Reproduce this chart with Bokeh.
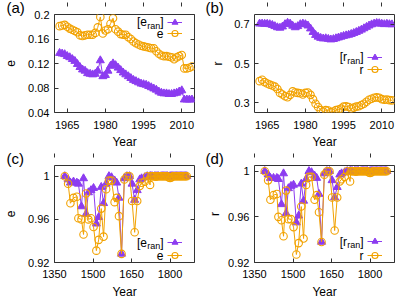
from bokeh.plotting import figure
from bokeh.layouts import gridplot
from bokeh.models import (Range1d, FixedTicker, LinearAxis, Label, Legend, LegendItem,
                          ColumnDataSource, Title)
from bokeh.embed import file_html
from bokeh.resources import INLINE

# ---------------- data ----------------
years_top = [1962, 1963, 1964, 1965, 1966, 1967, 1968, 1969, 1970, 1971,
             1972, 1973, 1974, 1975, 1976, 1977, 1978, 1979, 1980, 1981,
             1982, 1983, 1984, 1985, 1986, 1987, 1988, 1989, 1990, 1991,
             1992, 1993, 1994, 1995, 1996, 1997, 1998, 1999, 2000, 2001,
             2002, 2003, 2004, 2005, 2006, 2007, 2008, 2009, 2010, 2011,
             2012, 2013, 2014]
e_ran_top = [0.137, 0.136, 0.135, 0.132, 0.130, 0.127, 0.124, 0.119, 0.114, 0.110,
             0.108, 0.104, 0.103, 0.102, 0.103, 0.108, 0.125, 0.099, 0.101, 0.108,
             0.116, 0.120, 0.117, 0.113, 0.109, 0.105, 0.102, 0.099, 0.096, 0.093,
             0.091, 0.089, 0.087, 0.086, 0.085, 0.083, 0.081, 0.079, 0.077, 0.074,
             0.072, 0.071, 0.071, 0.070, 0.070, 0.071, 0.072, 0.074, 0.076, 0.061,
             0.061, 0.061, 0.061]
e_top = [0.181, 0.182, 0.183, 0.180, 0.177, 0.175, 0.173, 0.171, 0.166, 0.165,
         0.166, 0.167, 0.167, 0.167, 0.170, 0.179, 0.196, 0.169, 0.174, 0.176,
         0.185, 0.194, 0.176, 0.172, 0.168, 0.167, 0.167, 0.163, 0.160, 0.156,
         0.153, 0.151, 0.149, 0.148, 0.147, 0.146, 0.145, 0.145, 0.140, 0.136,
         0.133, 0.132, 0.132, 0.131, 0.130, 0.127, 0.130, 0.132, 0.134, 0.112,
         0.112, 0.113, 0.115]
r_ran_top = [0.703, 0.703, 0.702, 0.702, 0.700, 0.696, 0.690, 0.684, 0.682, 0.688,
             0.700, 0.707, 0.703, 0.692, 0.684, 0.690, 0.700, 0.703, 0.700, 0.693,
             0.678, 0.660, 0.645, 0.636, 0.630, 0.627, 0.628, 0.625, 0.622, 0.624,
             0.628, 0.632, 0.636, 0.640, 0.643, 0.646, 0.650, 0.655, 0.660, 0.666,
             0.672, 0.679, 0.686, 0.693, 0.699, 0.703, 0.706, 0.705, 0.702, 0.700,
             0.702, 0.700, 0.699]
r_top = [0.410, 0.417, 0.405, 0.398, 0.392, 0.388, 0.382, 0.370, 0.350, 0.342,
         0.333, 0.328, 0.340, 0.358, 0.352, 0.350, 0.348, 0.342, 0.350, 0.352,
         0.340, 0.318, 0.295, 0.278, 0.262, 0.255, 0.262, 0.260, 0.252, 0.255,
         0.262, 0.265, 0.270, 0.280, 0.282, 0.278, 0.270, 0.275, 0.280, 0.282,
         0.288, 0.295, 0.305, 0.315, 0.320, 0.325, 0.327, 0.325, 0.318, 0.315,
         0.316, 0.313, 0.312]

years_bot = [1390, 1403, 1412, 1424, 1437, 1443, 1455, 1463, 1473, 1482,
             1492, 1502, 1513, 1522, 1532, 1541, 1551, 1562, 1572, 1584,
             1592, 1601, 1611, 1622, 1632, 1642, 1652, 1662, 1672, 1682,
             1689, 1701, 1711, 1722, 1725, 1730, 1735, 1740, 1745, 1750,
             1755, 1760, 1765, 1770, 1775, 1780, 1785, 1790, 1795, 1800,
             1805, 1810, 1815, 1820, 1825, 1830, 1835, 1840, 1845, 1850,
             1855, 1860, 1865]
e_ran_bot = [1.000, 0.997, 0.994, 0.995, 0.994, 0.993, 0.972, 0.998, 0.965, 0.985,
             0.987, 0.989, 0.956, 0.962, 0.990, 0.975, 0.993, 1.000, 0.999, 0.996,
             0.994, 0.980, 0.928, 0.998, 1.000, 1.000, 0.993, 0.978, 0.987, 0.997,
             0.998, 0.999, 1.000, 1.000, 1.000, 1.000, 0.9995, 1.000, 1.000, 1.000,
             1.000, 0.9995, 1.000, 1.000, 1.000, 1.000, 1.000, 1.000, 0.9995, 1.000,
             1.000, 1.000, 1.000, 1.000, 1.000, 1.000, 1.000, 1.000, 1.000, 1.000,
             1.000, 1.000, 1.000]
e_bot = [1.000, 0.993, 0.975, 0.980, 0.981, 0.961, 0.960, 0.946, 0.984, 0.960,
         0.961, 0.953, 0.931, 0.941, 0.970, 0.944, 0.988, 0.996, 0.996, 0.976,
         0.980, 0.963, 0.928, 0.997, 1.000, 1.000, 0.977, 0.948, 0.977, 0.991,
         0.994, 0.995, 1.000, 0.992, 1.000, 1.000, 1.000, 1.000, 0.9995, 1.000,
         1.000, 1.000, 1.000, 1.000, 1.000, 1.000, 1.000, 1.000, 0.999, 0.9985,
         0.999, 1.000, 1.000, 1.000, 1.000, 1.000, 1.000, 1.000, 1.000, 1.000,
         1.000, 1.000, 1.000]
r_ran_bot = [1.000, 0.997, 0.994, 0.994, 0.994, 0.993, 0.971, 0.998, 0.963, 0.985,
             0.987, 0.988, 0.955, 0.961, 0.989, 0.974, 0.993, 1.000, 0.999, 0.996,
             0.994, 0.980, 0.938, 0.998, 1.000, 1.000, 0.992, 0.977, 0.986, 0.997,
             0.998, 0.999, 1.000, 1.000, 1.000, 1.000, 0.9995, 1.000, 1.000, 1.000,
             1.000, 0.9995, 1.000, 1.000, 1.000, 1.000, 1.000, 1.000, 0.9995, 1.000,
             1.000, 1.000, 1.000, 1.000, 1.000, 1.000, 1.000, 1.000, 1.000, 1.000,
             1.000, 1.000, 1.000]
r_bot = [1.000, 0.992, 0.975, 0.979, 0.980, 0.960, 0.957, 0.943, 0.983, 0.958,
         0.958, 0.951, 0.927, 0.937, 0.969, 0.941, 0.988, 0.995, 0.995, 0.975,
         0.979, 0.964, 0.938, 0.997, 1.000, 1.000, 0.977, 0.948, 0.977, 0.991,
         0.993, 0.995, 1.000, 0.991, 1.000, 1.000, 1.000, 1.000, 0.9995, 1.000,
         1.000, 1.000, 1.000, 1.000, 1.000, 1.000, 1.000, 1.000, 0.999, 0.9985,
         0.999, 1.000, 1.000, 1.000, 1.000, 1.000, 1.000, 1.000, 1.000, 1.000,
         1.000, 1.000, 1.000]

xticks_top = [1965, 1980, 1995, 2010]
xticks_bot = [1350, 1500, 1650, 1800]
yticks_a = [0.04, 0.08, 0.12, 0.16, 0.2]
ylabels_a = ["0.04", "0.08", "0.12", "0.16", "0.2"]
yticks_b = [0.3, 0.5, 0.7]
ylabels_b = ["0.3", "0.5", "0.7"]
yticks_cd = [0.92, 0.96, 1.0]
ylabels_cd = ["0.92", "0.96", "1"]

PURPLE = "#8c3cf0"
ORANGE = "#f2a200"
FRAME = "#333333"
FONT = "Liberation Sans"


def panel(letter, sym, xs, ran, obs, xr, yr, xticks, yticks, ylabels,
          fig_x, fig_y, width, height, bl, br, bt, bb, leg_rows,
          letter_x, pad, title_standoff, ylab_standoff, xtick_standoff, xlab_standoff):
    p = figure(width=width, height=height, x_range=Range1d(*xr), y_range=Range1d(*yr),
               output_backend="svg", toolbar_location=None, tools="",
               min_border_left=bl, min_border_right=br, min_border_top=bt,
               min_border_bottom=bb, background_fill_color="white",
               border_fill_color="white")
    p.outline_line_color = FRAME
    p.outline_line_width = 1
    p.xgrid.visible = False
    p.ygrid.visible = False

    fl = fig_x + bl
    ft = fig_y + bt
    fw = width - bl - br
    fh = height - bt - bb
    fr = fl + fw
    fb = ft + fh

    overrides = {t: l for t, l in zip(yticks, ylabels)}
    p.xaxis.ticker = FixedTicker(ticks=xticks)
    p.yaxis.ticker = FixedTicker(ticks=yticks)
    p.yaxis.major_label_overrides = overrides
    for ax in (p.xaxis[0], p.yaxis[0]):
        ax.axis_line_color = None
        ax.major_tick_in = 4
        ax.major_tick_out = 0
        ax.major_tick_line_color = FRAME
        ax.minor_tick_line_color = None
        ax.major_label_text_font = FONT
        ax.major_label_text_font_size = "11px"
        ax.major_label_text_color = "black"
        ax.axis_label_text_font = FONT
        ax.axis_label_text_font_size = "12px"
        ax.axis_label_text_font_style = "normal"
        ax.axis_label_text_color = "black"
    p.xaxis.major_label_standoff = xtick_standoff
    p.yaxis.major_label_standoff = 5
    p.xaxis.axis_label = "Year"
    p.xaxis.axis_label_standoff = xlab_standoff
    p.yaxis.axis_label = sym
    p.yaxis.axis_label_standoff = ylab_standoff

    # panel letter as a title in the top border (padding pushes it down)
    title = Title(text="(" + letter + ")", align="left", offset=letter_x - fl,
                  standoff=title_standoff + 2 * pad, vertical_align="top",
                  text_font=FONT, text_font_size="15px",
                  text_font_style="normal", text_color="black")
    try:
        title.padding = pad
        title.offset = letter_x - fl - pad
        title.standoff = title_standoff
    except Exception:
        pass
    p.add_layout(title, "above")

    # mirrored ticks on top and right (no labels drawn)
    for loc, tk in (("above", xticks), ("right", yticks)):
        ax = LinearAxis(ticker=FixedTicker(ticks=tk), axis_line_color=None,
                        major_tick_in=4, major_tick_out=0,
                        major_tick_line_color=FRAME, minor_tick_line_color=None,
                        major_label_text_font_size="1px", major_label_text_color=None,
                        major_label_standoff=0)
        p.add_layout(ax, loc)

    src = ColumnDataSource(dict(x=xs, ran=ran, obs=obs))
    l1 = p.line("x", "ran", source=src, line_color=PURPLE, line_width=1)
    s1 = p.scatter("x", "ran", source=src, marker="triangle", size=8,
                   fill_color=PURPLE, line_color=PURPLE)
    l2 = p.line("x", "obs", source=src, line_color=ORANGE, line_width=1)
    s2 = p.scatter("x", "obs", source=src, marker="circle", size=7.5,
                   fill_color=None, line_color=ORANGE, line_width=1.1)

    def dx(px):
        return xr[0] + (px - fl) / fw * (xr[1] - xr[0])

    def dy(py):
        return yr[1] - (py - ft) / fh * (yr[1] - yr[0])

    def lab(px, py, text, size, align="left"):
        p.add_layout(Label(x=dx(px), y=dy(py), text=text, text_font=FONT,
                           text_font_size=size, text_align=align,
                           text_baseline="middle", text_color="black"))

    # legend texts (with subscript) and samples
    tx = fr - 31
    y1, y2 = leg_rows
    lab(tx, y1, "]", "12px", "right")
    lab(tx - 3.3, y1 + 3.5, "ran", "9px", "right")
    lab(tx - 3.3 - 13.2, y1, "[" + sym, "12px", "right")
    lab(tx, y2, sym, "12px", "right")

    gw, gh = 15, 18
    for rends, yc in (([l1, s1], y1), ([l2, s2], y2)):
        leg = Legend(items=[LegendItem(label=" ", renderers=rends)],
                     location=(fr - 20 - gw / 2 - fl, fb - (yc + gh / 2)),
                     glyph_width=gw, glyph_height=gh, label_width=0, label_height=0,
                     label_standoff=0, label_text_font_size="1px",
                     label_text_color=None, padding=0,
                     margin=0, spacing=0, border_line_color=None,
                     background_fill_alpha=0)
        p.add_layout(leg, "center")
    return p


# layout: page origin at (0, 0); left column 200 px, right column 214 px
pa = panel("a", "e", years_top, e_ran_top, e_top, (1960, 2015), (0.04, 0.2),
           xticks_top, yticks_a, ylabels_a, 0, 0, 200, 151, 54, 6, 14, 39, (21.7, 33.3),
           6, 6, -19, 10, 8, 3)
pb = panel("b", "r", years_top, r_ran_top, r_top, (1960, 2015), (0.25, 0.75),
           xticks_top, yticks_b, ylabels_b, 200, 0, 214, 151, 54, 20, 14, 39, (56.7, 69.3),
           205, 6, -19, 6, 8, 3)
pc = panel("c", "e", years_bot, e_ran_bot, e_bot, (1350, 1895), (0.92, 1.01),
           xticks_bot, yticks_cd, ylabels_cd, 0, 151, 200, 150, 54, 6, 14, 38, (243.0, 256.0),
           6, 10, -27, 10, 7, 4)
pd = panel("d", "r", years_bot, r_ran_bot, r_bot, (1350, 1895), (0.92, 1.005),
           xticks_bot, yticks_cd, ylabels_cd, 200, 151, 214, 150, 54, 20, 14, 38, (242.0, 256.0),
           205, 10, -27, 3, 7, 4)

grid = gridplot([[pa, pb], [pc, pd]], toolbar_location=None)
open("out.html", "w").write(file_html(grid, INLINE))
